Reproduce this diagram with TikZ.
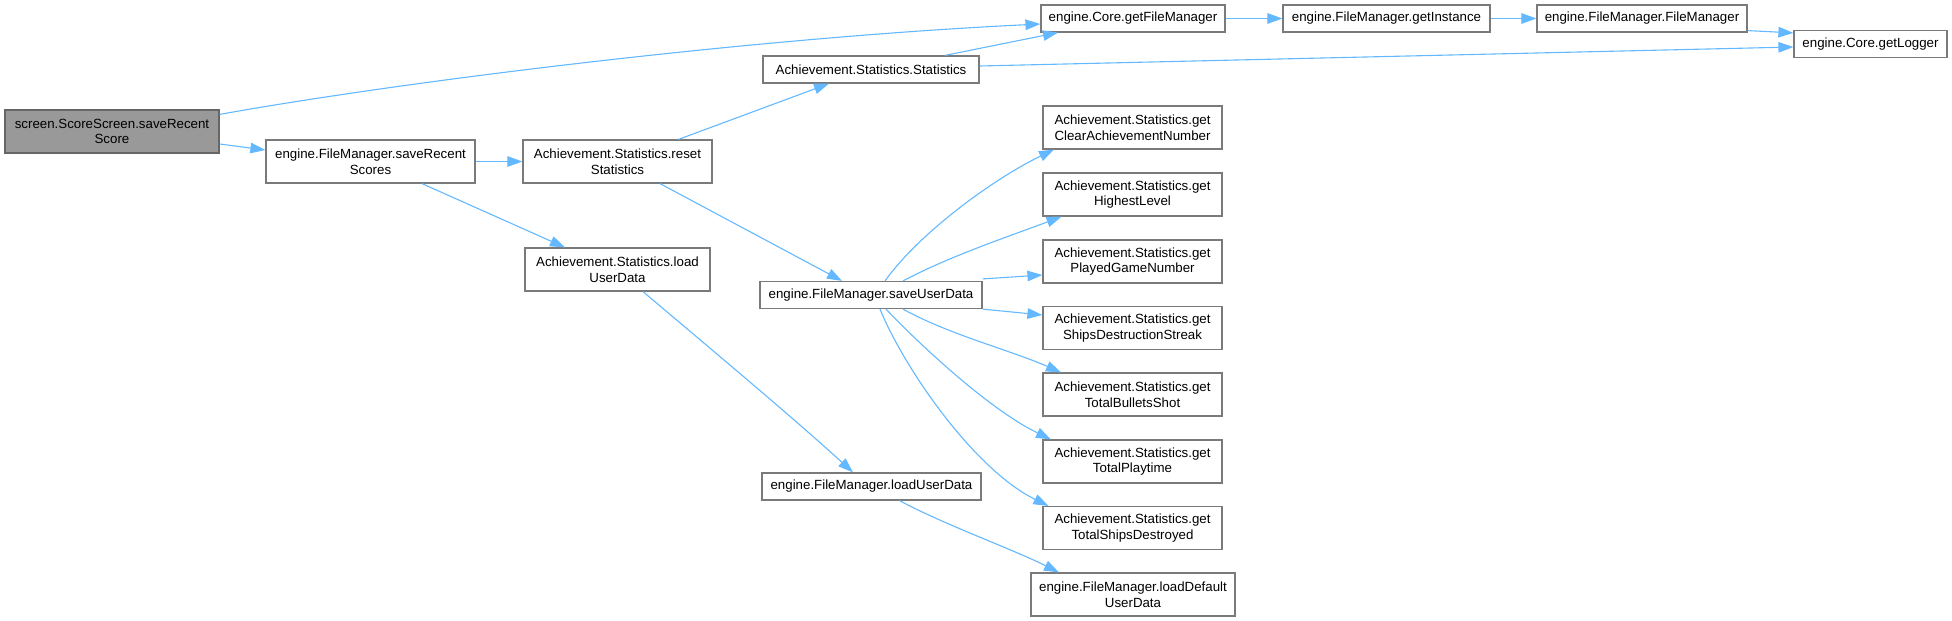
\documentclass[tikz,border=0pt]{standalone}
\usepackage{fontspec}
\setmainfont{Liberation Sans}
\usetikzlibrary{arrows.meta}
\definecolor{edgeblue}{HTML}{63B8FF}
\definecolor{boxline}{HTML}{7A7A7A}
\definecolor{rootfill}{HTML}{999999}
\definecolor{rootline}{HTML}{666666}
\tikzset{
  fn/.style={draw=boxline, fill=white, line width=1.2pt, inner sep=0pt, align=center,
    font=\fontsize{13.3}{15.7}\selectfont},
  root/.style={fn, fill=rootfill, draw=rootline},
  call/.style={draw=edgeblue, line width=1.1pt, -{Triangle[length=15pt,width=10.5pt]}},
}
\begin{document}
\begin{tikzpicture}[x=1pt,y=-1pt]
\useasboundingbox (0,0) rectangle (1952,621);
% nodes
\node[root, minimum width=214pt, minimum height=43pt] (root) at (112,131.5) {screen.ScoreScreen.saveRecent\\Score};
\node[fn, minimum width=209pt, minimum height=43pt] (srs) at (370.5,161.5) {engine.FileManager.saveRecent\\Scores};
\node[fn, minimum width=189pt, minimum height=43pt] (reset) at (617.5,161.5) {Achievement.Statistics.reset\\Statistics};
\node[fn, minimum width=185pt, minimum height=43pt] (aload) at (617.5,269.5) {Achievement.Statistics.load\\UserData};
\node[fn, minimum width=216pt, minimum height=27pt] (stats) at (871,69.5) {Achievement.Statistics.Statistics};
\node[fn, minimum width=184pt, minimum height=27pt] (gfm) at (1133,18.5) {engine.Core.getFileManager};
\node[fn, minimum width=207pt, minimum height=27pt] (gi) at (1386.5,18.5) {engine.FileManager.getInstance};
\node[fn, minimum width=210pt, minimum height=27pt] (fmfm) at (1642,18.5) {engine.FileManager.FileManager};
\node[fn, minimum width=153pt, minimum height=27pt] (logger) at (1870.5,44) {engine.Core.getLogger};
\node[fn, minimum width=222pt, minimum height=27pt] (sud) at (871,295) {engine.FileManager.saveUserData};
\node[fn, minimum width=219pt, minimum height=27pt] (eload) at (871.5,486.5) {engine.FileManager.loadUserData};
\node[fn, minimum width=179pt, minimum height=43pt] (clear) at (1132.5,127.5) {Achievement.Statistics.get\\ClearAchievementNumber};
\node[fn, minimum width=179pt, minimum height=43pt] (high) at (1132.5,194.5) {Achievement.Statistics.get\\HighestLevel};
\node[fn, minimum width=179pt, minimum height=43pt] (played) at (1132.5,261.5) {Achievement.Statistics.get\\PlayedGameNumber};
\node[fn, minimum width=179pt, minimum height=43pt] (ships) at (1132.5,328) {Achievement.Statistics.get\\ShipsDestructionStreak};
\node[fn, minimum width=179pt, minimum height=43pt] (bullets) at (1132.5,394.5) {Achievement.Statistics.get\\TotalBulletsShot};
\node[fn, minimum width=179pt, minimum height=43pt] (playtime) at (1132.5,461.5) {Achievement.Statistics.get\\TotalPlaytime};
\node[fn, minimum width=179pt, minimum height=43pt] (destroyed) at (1132.5,528) {Achievement.Statistics.get\\TotalShipsDestroyed};
\node[fn, minimum width=204pt, minimum height=43pt] (ldef) at (1133,594.5) {engine.FileManager.loadDefault\\UserData};
% edges
\draw[call] ([yshift=-5pt]root.north east) .. controls (400,82) and (750,38) .. ([yshift=-5.5pt]gfm.west);
\draw[call] ([yshift=-12.5pt]root.east) -- ([yshift=11.5pt]srs.west);
\draw[call] (srs.east) -- (reset.west);
\draw[call] ([xshift=51.5pt]srs.south) -- ([xshift=-52.5pt]aload.north);
\draw[call] ([xshift=61pt]reset.north) -- ([xshift=-42pt]stats.south);
\draw[call] ([xshift=42.5pt]reset.south) -- ([xshift=-29pt]sud.north);
\draw[call] ([xshift=74pt]stats.north) -- ([xshift=-75pt]gfm.south);
\draw[call] ([yshift=3.5pt]stats.east) -- ([yshift=-3pt]logger.west);
\draw[call] (gfm.east) -- (gi.west);
\draw[call] (gi.east) -- (fmfm.west);
\draw[call] ([yshift=2pt]fmfm.south east) -- ([yshift=-3pt]logger.north west);
\draw[call] ([xshift=25.5pt]aload.south) .. controls (712,350) and (790,415) .. ([xshift=-18.5pt]eload.north);
\draw[call] ([xshift=14pt]sud.north) .. controls (920,232) and (995,178) .. ([xshift=-78.5pt]clear.south);
\draw[call] ([xshift=32pt]sud.north) .. controls (950,256) and (1010,236) .. ([xshift=-71pt]high.south);
\draw[call] ([yshift=2pt]sud.north east) -- ([yshift=-13.5pt]played.west);
\draw[call] (sud.south east) -- ([yshift=13pt]ships.west);
\draw[call] ([xshift=32pt]sud.south) .. controls (950,335) and (1010,350) .. ([xshift=-71.5pt]bullets.north);
\draw[call] ([xshift=15pt]sud.south) .. controls (920,345) and (990,410) .. ([xshift=-81.5pt]playtime.north);
\draw[call] ([xshift=9pt]sud.south) .. controls (905,370) and (975,470) .. ([xshift=-84pt]destroyed.north);
\draw[call] ([xshift=28pt]eload.south) .. controls (945,525) and (1010,548) .. ([xshift=-74pt]ldef.north);
\end{tikzpicture}
\end{document}
